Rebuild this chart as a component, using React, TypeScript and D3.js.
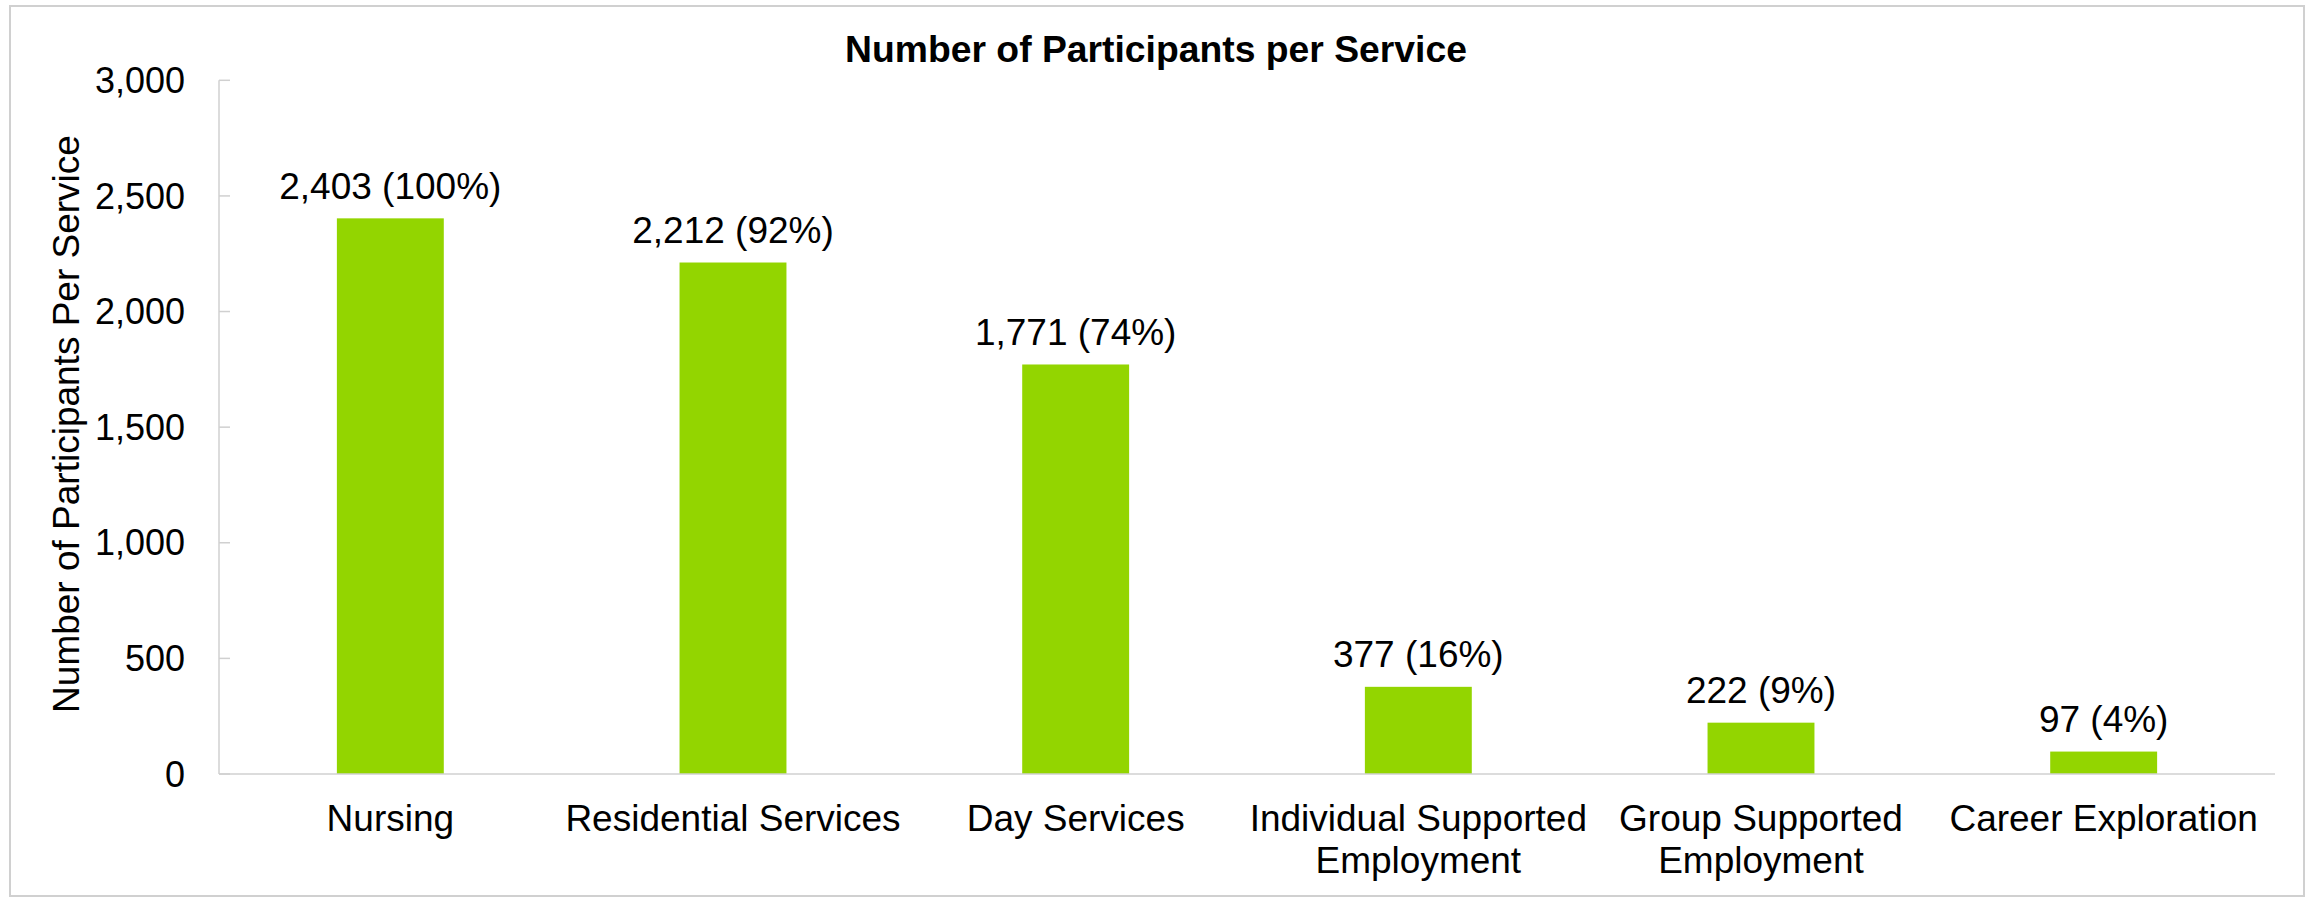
import React from "react";
import * as d3 from "d3";

const categories: string[][] = [
  ["Nursing"],
  ["Residential Services"],
  ["Day Services"],
  ["Individual Supported", "Employment"],
  ["Group Supported", "Employment"],
  ["Career Exploration"],
];
const values: number[] = [2403, 2212, 1771, 377, 222, 97];
const percents: string[] = ["100%", "92%", "74%", "16%", "9%", "4%"];
const yTicks: number[] = [0, 500, 1000, 1500, 2000, 2500, 3000];

const W = 2310;
const H = 898;
const FONT = "'Liberation Sans', Arial, Helvetica, sans-serif";

export default function App() {
  const left = 219;
  const right = 2275;
  const top = 80.3;
  const bottom = 774;

  const x = d3
    .scaleBand<number>()
    .domain(d3.range(categories.length))
    .range([left, right])
    .paddingInner(0.688)
    .paddingOuter(0.344);
  const y = d3.scaleLinear().domain([0, 3000]).range([bottom, top]);
  const fmt = d3.format(",");

  return (
    <div style={{ position: "absolute", left: 0, top: 0 }}>
      <svg width={W} height={H} style={{ display: "block", background: "#fff" }}>
        <rect x={10} y={6} width={2294} height={890} fill="#fff" stroke="#d0d0d0" strokeWidth={2} />
        <text
          x={1156}
          y={61.7}
          textAnchor="middle"
          fontFamily={FONT}
          fontWeight="bold"
          fontSize={37.3}
          fill="#000"
        >
          Number of Participants per Service
        </text>
        <text
          transform={`translate(78.5, 424) rotate(-90)`}
          textAnchor="middle"
          fontFamily={FONT}
          fontSize={37}
          fill="#000"
        >
          Number of Participants Per Service
        </text>
        {/* y axis */}
        <line x1={left} x2={left} y1={top} y2={bottom} stroke="#d0d0d0" strokeWidth={1.5} />
        {yTicks.map((t) => (
          <g key={t}>
            <line x1={left} x2={left + 11} y1={y(t)} y2={y(t)} stroke="#d0d0d0" strokeWidth={1.5} />
            <text
              x={185}
              y={y(t)}
              dy="0.35em"
              textAnchor="end"
              fontFamily={FONT}
              fontSize={36}
              fill="#000"
            >
              {fmt(t)}
            </text>
          </g>
        ))}
        {/* bars */}
        {values.map((v, i) => (
          <rect
            key={i}
            x={x(i)!}
            y={y(v)}
            width={x.bandwidth()}
            height={bottom - y(v)}
            fill="#93d500"
          />
        ))}
        {/* x axis */}
        <line x1={left} x2={right} y1={bottom} y2={bottom} stroke="#d0d0d0" strokeWidth={1.5} />
        {/* data labels */}
        {values.map((v, i) => (
          <text
            key={i}
            x={x(i)! + x.bandwidth() / 2}
            y={y(v) - 19.5}
            textAnchor="middle"
            fontFamily={FONT}
            fontSize={37}
            fill="#000"
          >
            {`${fmt(v)} (${percents[i]})`}
          </text>
        ))}
        {/* category labels */}
        {categories.map((lines, i) => (
          <text
            key={i}
            x={x(i)! + x.bandwidth() / 2}
            y={830.7}
            textAnchor="middle"
            fontFamily={FONT}
            fontSize={37}
            fill="#000"
          >
            {lines.map((l, j) => (
              <tspan key={j} x={x(i)! + x.bandwidth() / 2} dy={j === 0 ? 0 : 42.5}>
                {l}
              </tspan>
            ))}
          </text>
        ))}
      </svg>
    </div>
  );
}
